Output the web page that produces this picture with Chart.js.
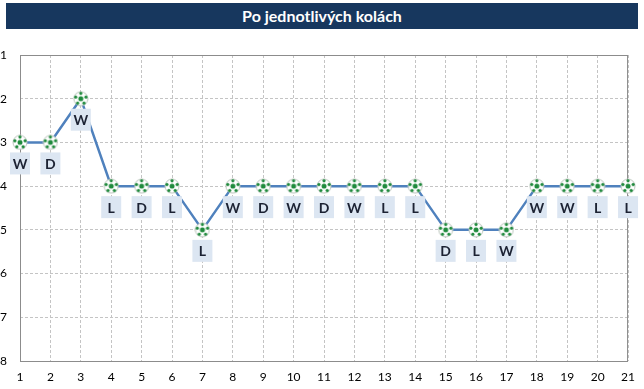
<!DOCTYPE html>
<html>
<head>
<meta charset="utf-8">
<script src="https://cdn.jsdelivr.net/npm/chart.js@4/dist/chart.umd.min.js"></script>
<style>
  html, body { margin: 0; padding: 0; background: #fff; }
  #wrap { position: relative; width: 644px; height: 389px; }
  #banner {
    position: absolute; left: 6px; top: 3px; width: 632px; height: 26px;
    background: #17375E; color: #fff; font: bold 16px Lato, "Open Sans", sans-serif;
    text-align: center; line-height: 26px;
  }
  canvas { position: absolute; left: 0; top: 0; }
</style>
</head>
<body>
<div id="wrap">
  <canvas id="graf" width="644" height="389"></canvas>
  <div id="banner">Po jednotlivých kolách</div>
</div>
<script>
// Kola, umístění v tabulce a výsledky
const kola = ["1","2","3","4","5","6","7","8","9","10","11","12","13","14","15","16","17","18","19","20","21"];
const poradi = [3,3,2,4,4,4,5,4,4,4,4,4,4,4,5,5,5,4,4,4,4];
const vysledky = ["W","D","W","L","D","L","L","W","D","W","D","W","L","L","D","L","W","W","W","L","L"];
const osaY = [1,2,3,4,5,6,7,8];

// Ikona míče pro body
function mic() {
  const c = document.createElement("canvas");
  c.width = c.height = 16;
  const g = c.getContext("2d");
  g.beginPath(); g.arc(8, 8, 7, 0, Math.PI * 2);
  g.fillStyle = "#fff"; g.fill();
  g.lineWidth = 1; g.strokeStyle = "#b9c4bb"; g.stroke();
  g.fillStyle = "#1f8a3c";
  g.beginPath(); g.arc(8, 8, 2.5, 0, Math.PI * 2); g.fill();
  for (let i = 0; i < 5; i++) {
    const a = -Math.PI / 2 + i * 2 * Math.PI / 5;
    g.beginPath(); g.arc(8 + Math.cos(a) * 5.4, 8 + Math.sin(a) * 5.4, 1.6, 0, Math.PI * 2); g.fill();
  }
  return c;
}

// Popisky výsledků pod body + rámeček grafu
const popisky = {
  id: "popisky",
  afterDatasetsDraw(chart) {
    const ctx = chart.ctx;
    const meta = chart.getDatasetMeta(0);
    ctx.save();
    ctx.font = "bold 14px Lato, 'Open Sans', sans-serif";
    ctx.textAlign = "center";
    ctx.textBaseline = "middle";
    meta.data.forEach((bod, i) => {
      const x = bod.x, y = bod.y + 21;
      ctx.fillStyle = "#dce6f2";
      ctx.fillRect(x - 10, y - 11, 20, 22);
      ctx.fillStyle = "#1c2233";
      ctx.fillText(vysledky[i], x, y + 1);
    });
    ctx.restore();
  },
  beforeDatasetsDraw(chart) {
    const a = chart.chartArea, ctx = chart.ctx;
    ctx.save();
    ctx.strokeStyle = "#8c8c8c";
    ctx.lineWidth = 1;
    ctx.strokeRect(a.left + 0.5, a.top + 0.5, a.right - a.left - 1, a.bottom - a.top);
    ctx.restore();
  }
};

const ikona = mic();

new Chart(document.getElementById("graf"), {
  type: "line",
  data: {
    labels: kola,
    datasets: [{
      data: poradi,
      borderColor: "#4f81bd",
      borderWidth: 2.5,
      tension: 0,
      pointStyle: ikona,
      pointRadius: 7,
      pointHoverRadius: 7
    }]
  },
  options: {
    responsive: false,
    animation: false,
    layout: { padding: { top: 55, right: 12, left: 0, bottom: 0 } },
    plugins: { legend: { display: false }, tooltip: { enabled: false } },
    scales: {
      x: {
        offset: false,
        grid: { color: "#c4c4c4", drawTicks: false },
        border: { display: false, dash: [3, 2] },
        ticks: { color: "#000", padding: 9, font: { family: "Lato, 'Open Sans', sans-serif", size: 12 }, maxRotation: 0, autoSkip: false },
        afterFit(s) { s.height = 28; }
      },
      y: {
        reverse: true,
        min: 1,
        max: 8,
        grid: { color: "#c4c4c4", drawTicks: false },
        border: { display: false, dash: [3, 2] },
        ticks: { color: "#000", stepSize: 1, padding: 8, crossAlign: "far", font: { family: "Lato, 'Open Sans', sans-serif", size: 12 }, callback: (v) => osaY.includes(v) ? v : "" },
        afterFit(s) { s.width = 20; }
      }
    }
  },
  plugins: [popisky]
});
</script>
</body>
</html>
